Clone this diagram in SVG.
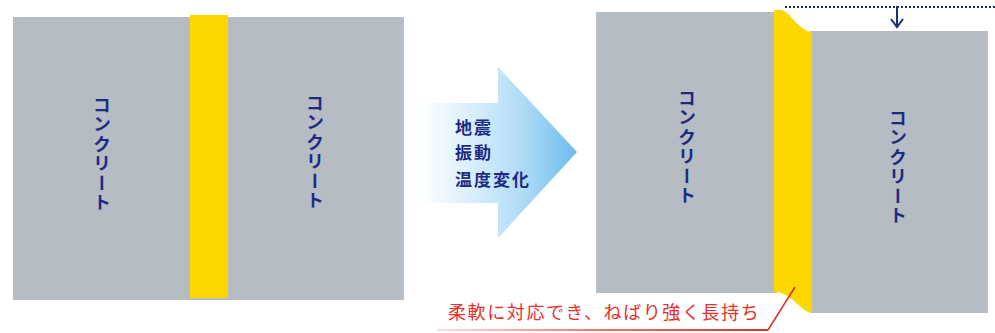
<svg xmlns="http://www.w3.org/2000/svg" width="995" height="333" viewBox="0 0 995 333">
  <defs>
    <linearGradient id="arrowGrad" x1="420" y1="0" x2="577" y2="0" gradientUnits="userSpaceOnUse">
      <stop offset="0" stop-color="#ffffff"/>
      <stop offset="0.3" stop-color="#dcf0fc"/>
      <stop offset="0.65" stop-color="#b0dcf6"/>
      <stop offset="1" stop-color="#6cbcee"/>
    </linearGradient>
    <linearGradient id="lineGrad" x1="437" y1="0" x2="770" y2="0" gradientUnits="userSpaceOnUse">
      <stop offset="0" stop-color="#e8362a" stop-opacity="0.15"/>
      <stop offset="0.5" stop-color="#e8362a" stop-opacity="0.7"/>
      <stop offset="1" stop-color="#d9302a"/>
    </linearGradient>
    <style>
      .concrete { fill: #b5bcc4; }
      .sealant { fill: #fdd700; }
      .vlabel { font-family: "Noto Sans CJK JP", "Noto Sans", sans-serif; font-weight: bold; font-size: 18px; fill: #1c2a82; writing-mode: vertical-rl; letter-spacing: 1.5px; }
      .alabel { font-family: "Noto Sans CJK JP", "Noto Sans", sans-serif; font-weight: bold; font-size: 17px; fill: #1c2a82; letter-spacing: 2px; }
      .callout { font-family: "Noto Sans CJK JP", "Noto Sans", sans-serif; font-size: 18px; fill: #e8302a; letter-spacing: 1.6px; }
      .navy { stroke: #1c2f7c; fill: none; }
    </style>
  </defs>
  <rect width="995" height="333" fill="#ffffff"/>

  <g id="before">
    <rect class="concrete" x="13" y="17" width="391" height="283"/>
    <rect class="sealant" x="190" y="15" width="38" height="283"/>
    <text class="vlabel" x="102" y="96">コンクリート</text>
    <text class="vlabel" x="315" y="94">コンクリート</text>
  </g>

  <g id="arrow">
    <path d="M420,103 L498,103 L498,67 L577,152 L498,238 L498,203 L420,203 Z" fill="url(#arrowGrad)"/>
    <text class="alabel" x="455" y="134">地震</text>
    <text class="alabel" x="455" y="159">振動</text>
    <text class="alabel" x="455" y="186">温度変化</text>
  </g>

  <g id="after">
    <rect class="concrete" x="596" y="12" width="181" height="281"/>
    <rect class="concrete" x="810" y="31" width="178" height="282"/>
    <path class="sealant" d="M774,10 L782,10 C792,14 798,30 812,32 L812,313 C800,311 795,296 777,292 L774,292 Z"/>
    <text class="vlabel" x="687" y="89">コンクリート</text>
    <text class="vlabel" x="898" y="109">コンクリート</text>
  </g>

  <g id="connectors">
    <line class="navy" x1="785" y1="7" x2="995" y2="7" stroke-width="2" stroke-dasharray="2,2"/>
    <line class="navy" x1="897" y1="6" x2="897" y2="27" stroke-width="2"/>
    <path class="navy" d="M891,19 L897,27 L903,19" stroke-width="2"/>
    <path d="M795,287 L768,330" fill="none" stroke="#d9302a" stroke-width="1.5"/>
    <line x1="437" y1="330" x2="768" y2="330" stroke="url(#lineGrad)" stroke-width="2"/>
  </g>

  <g id="callout">
    <text class="callout" x="448" y="319">柔軟に対応でき、ねばり強く長持ち</text>
  </g>
</svg>
